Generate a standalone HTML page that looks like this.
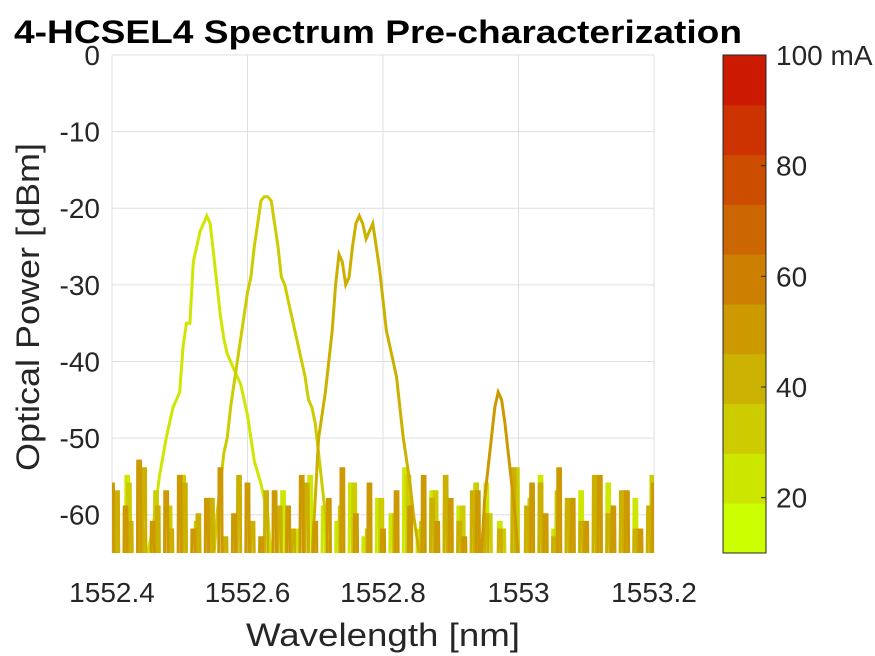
<!DOCTYPE html>
<html><head><meta charset="utf-8"><style>
body{margin:0;background:#fff;}
svg{display:block;font-family:"Liberation Sans",Arial,sans-serif;}
</style></head><body>
<svg id="chart" width="875" height="656" viewBox="0 0 875 656">
<defs><clipPath id="clip"><rect x="112" y="55" width="542" height="498"/></clipPath></defs>
<text x="14" y="43" font-size="32" font-weight="bold" fill="#000" textLength="728" lengthAdjust="spacingAndGlyphs">4-HCSEL4 Spectrum Pre-characterization</text>
<g id="grid"></g>
<g id="series" clip-path="url(#clip)"></g>
<g id="axes"></g>
<g id="cbar"></g>
<text x="383" y="646" font-size="32" text-anchor="middle" fill="#262626" textLength="274" lengthAdjust="spacingAndGlyphs">Wavelength [nm]</text>
<text transform="translate(39,307) rotate(-90)" font-size="32" text-anchor="middle" fill="#262626" textLength="328" lengthAdjust="spacingAndGlyphs">Optical Power [dBm]</text>
</svg>
<script>
const xTicks=[1552.4,1552.6,1552.8,1553,1553.2];
const xTickLabels=["1552.4","1552.6","1552.8","1553","1553.2"];
const yTicks=[0,-10,-20,-30,-40,-50,-60];
const yTickLabels=["0","-10","-20","-30","-40","-50","-60"];
const cbarTicks=[20,40,60,80,100];
const cbarTickLabels=["20","40","60","80","100 mA"];
const cbarBandColors=["#ccff00","#cce600","#cccc00","#ccb200","#cc9900","#cc7f00","#cc6600","#cc4c00","#cc3300","#cc1a00"];

const seriesColors=["#cfe600","#cccc00","#ccb000","#cc9900"];
const peakWlA=[1552.45,1552.46,1552.47,1552.48,1552.49,1552.495,1552.50,1552.505,1552.51,1552.515,1552.52,1552.53,1552.535,1552.54,1552.545,1552.55,1552.555,1552.56,1552.565,1552.57,1552.575,1552.58,1552.59,1552.60,1552.61,1552.62,1552.63,1552.635];
const peakPwA=[-66,-62,-55,-50,-46,-45,-44,-38,-35,-35,-27,-23,-22,-21,-22,-26,-30,-34,-37,-39,-40,-41,-43,-47,-53,-56,-60,-66];
const noiseLeftA=[-58,-66,-55,-66,-60];
const noiseRightA=[-66,-57,-66,-62,-66,-55,-66,-59,-66,-61,-66,-56,-66,-63,-66,-58,-66,-60,-66,-54,-66,-62,-66,-57,-66,-60,-66,-59,-66,-63,-66,-56,-66,-61,-66,-58,-66,-60,-66,-55,-66,-62,-66,-59,-66,-57,-66,-61,-66,-56,-66,-63,-66,-58,-66,-60];
const peakWlB=[1552.55,1552.555,1552.56,1552.565,1552.57,1552.575,1552.58,1552.585,1552.59,1552.595,1552.60,1552.605,1552.61,1552.615,1552.62,1552.625,1552.63,1552.635,1552.64,1552.645,1552.65,1552.655,1552.66,1552.665,1552.67,1552.675,1552.68,1552.685,1552.69,1552.695,1552.70,1552.705,1552.71,1552.715,1552.72];
const peakPwB=[-66,-60,-56,-52,-50,-46,-43,-40,-37,-34,-31,-29,-25,-22,-19,-18.5,-18.5,-19,-22,-25,-29,-30,-32,-34,-36,-38,-40,-42,-45,-46,-48,-52,-56,-60,-66];
const noiseLeftB=[-60,-66,-56,-66,-62,-66,-57,-66,-59,-66,-55,-66,-61,-66,-58];
const noiseRightB=[-66,-59,-66,-56,-66,-62,-66,-58,-66,-60,-66,-55,-66,-61,-66,-57,-66,-63,-66,-59,-66,-56,-66,-60,-66,-62,-66,-54,-66,-58,-66,-61,-66,-57,-66,-59,-66,-63,-66,-56,-66,-60,-66,-58,-66,-62,-66,-55];
const peakWlC=[1552.695,1552.70,1552.705,1552.71,1552.715,1552.72,1552.725,1552.73,1552.735,1552.74,1552.745,1552.75,1552.755,1552.76,1552.765,1552.77,1552.775,1552.78,1552.785,1552.79,1552.795,1552.80,1552.805,1552.81,1552.815,1552.82,1552.825,1552.83,1552.835,1552.84,1552.845,1552.85,1552.855];
const peakPwC=[-66,-58,-50,-47,-44,-40,-36,-30,-26,-27,-30,-29,-25,-22,-21,-22,-24,-23,-22,-25,-28,-32,-36,-38,-40,-42,-46,-50,-53,-56,-60,-63,-66];
const noiseLeftC=[-57,-66,-61,-66,-54,-66,-59,-66,-62,-66,-56,-66,-60,-66,-58,-66,-63,-66,-55,-66,-61,-66,-57,-66,-59,-66,-62,-66,-56];
const noiseRightC=[-66,-58,-66,-55,-66,-61,-66,-57,-66,-60,-66,-62,-66,-54,-66,-59,-66,-56,-66,-63,-66,-58,-66,-61,-66,-55,-66,-60,-66,-57,-66,-62,-66,-59];
const peakWlD=[1552.945,1552.95,1552.955,1552.96,1552.965,1552.97,1552.975,1552.98,1552.985,1552.99,1552.995,1553.0];
const peakPwD=[-66,-58,-54,-50,-46,-44,-45,-48,-52,-56,-60,-66];
const noiseLeftD=[-56,-66,-59,-66,-53,-66,-61,-66,-57,-66,-55,-66,-62,-66,-58,-66,-54,-66,-60,-66,-56,-66,-63,-66,-57,-66,-59,-66,-55,-66,-61,-66,-58,-66,-54,-66,-60,-66,-56,-66,-62,-66,-57,-66,-59,-66,-55,-66,-61,-66,-58,-66,-63,-66,-57];
const noiseRightD=[-66,-56,-66,-60,-66,-54,-66,-58,-66,-61,-66,-55,-66,-59,-66,-57,-66,-62,-66,-56];

const NS="http://www.w3.org/2000/svg";
const X0=112,X1=654,Y0=55,Y1=553;
function xs(v){return X0+(v-1552.4)/(0.8)*(X1-X0);}
function ys(v){return Y0+(0-v)/65*(Y1-Y0);}
function cy(v){return Y1-(v-10)/90*(Y1-Y0);}
function mk(tag,attrs,parent){const e=document.createElementNS(NS,tag);for(const k in attrs)e.setAttribute(k,attrs[k]);parent.appendChild(e);return e;}
const grid=document.getElementById('grid'),axes=document.getElementById('axes'),ser=document.getElementById('series'),cb=document.getElementById('cbar');
xTicks.forEach((t,i)=>{
 const l=mk('line',{x1:xs(t),x2:xs(t),y1:Y0,y2:Y1,stroke:'#dfdfdf','stroke-width':1},grid);
 
 
 const tx=mk('text',{x:xs(t),y:602,'font-size':28,'text-anchor':'middle',fill:'#262626'},axes);
 tx.textContent=xTickLabels[i];
 
 
});
yTicks.forEach((t,i)=>{
 const l=mk('line',{x1:X0,x2:X1,y1:ys(t),y2:ys(t),stroke:'#dfdfdf','stroke-width':1},grid);
 
 
 const tx=mk('text',{x:100,y:ys(t)+10,'font-size':28,'text-anchor':'end',fill:'#262626'},axes);
 tx.textContent=yTickLabels[i];
 
 
});
function spikes(arr,start,pts){
 arr.forEach((v,i)=>{const x=start+i*0.01;
  if(v<=-65){pts.push([x,v]);}
  else{pts.push([x-0.0025,-66]);pts.push([x-0.002,v]);pts.push([x+0.002,v]);pts.push([x+0.0025,-66]);}
 });
}
function build(nl,nlStart,wl,pw,nr,nrStart){
 const pts=[];
 spikes(nl,nlStart,pts);
 wl.forEach((w,i)=>pts.push([w,pw[i]]));
 spikes(nr,nrStart,pts);
 return pts;
}
const all=[
 build(noiseLeftA,1552.4025,peakWlA,peakPwA,noiseRightA,1552.6425),
 build(noiseLeftB,1552.405,peakWlB,peakPwB,noiseRightB,1552.7275),
 build(noiseLeftC,1552.4075,peakWlC,peakPwC,noiseRightC,1552.8625),
 build(noiseLeftD,1552.40,peakWlD,peakPwD,noiseRightD,1553.01)
];
const names=['series-20ma','series-30ma','series-40ma','series-50ma'];
all.forEach((pts,k)=>{
 const p=mk('polyline',{points:pts.map(q=>xs(q[0]).toFixed(1)+','+ys(q[1]).toFixed(1)).join(' '),fill:'none',stroke:seriesColors[k],'stroke-width':3,'stroke-linejoin':'miter'},ser);
 
 
});
cbarBandColors.forEach((c,i)=>{
 const r=mk('rect',{x:723,y:cy(10+(i+1)*9),width:43,height:cy(10+i*9)-cy(10+(i+1)*9)+0.5,fill:c},cb);
 
 
});
mk('rect',{x:723,y:Y0,width:43,height:Y1-Y0,fill:'none',stroke:'#262626','stroke-width':1},cb);
cbarTicks.forEach((t,i)=>{
 mk('line',{x1:761,x2:766,y1:cy(t),y2:cy(t),stroke:'#262626'},cb);
 const tx=mk('text',{x:776,y:cy(t)+10,'font-size':28,fill:'#262626'},cb);
 tx.textContent=cbarTickLabels[i];
 
 
});
</script>
</body></html>
